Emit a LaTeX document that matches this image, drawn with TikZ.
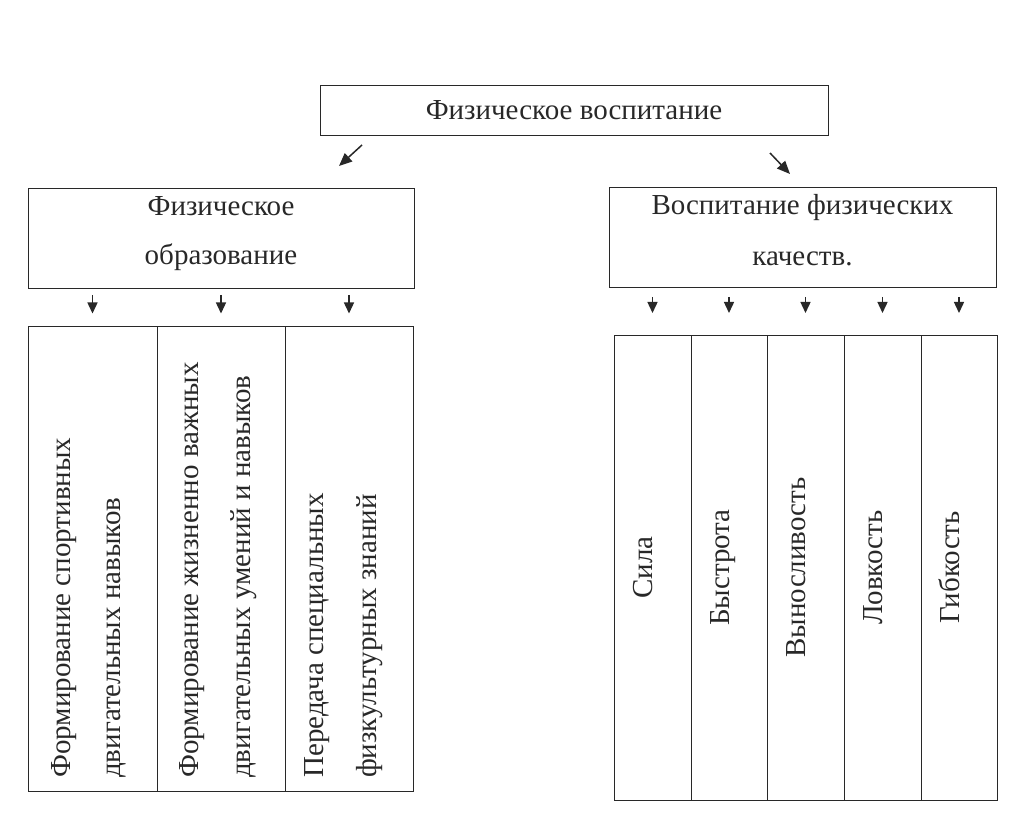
\documentclass[tikz,border=0pt]{standalone}
\usepackage{fontspec}
\setmainfont{Liberation Serif}
\usetikzlibrary{arrows.meta, positioning}
\definecolor{ink}{RGB}{40,40,40}

\begin{document}
\begin{tikzpicture}[
  x=1pt, y=-1pt,
  node distance=0pt,
  box/.style  = {rectangle, draw=ink, line width=0.9pt, inner sep=0pt, outer sep=0pt,
                 font=\fontsize{29}{49}\selectfont, text=ink, align=center},
  col/.style  = {rectangle, draw=ink, line width=0.9pt, inner sep=0pt, outer sep=0pt,
                 minimum height=465pt},
  vtxt/.style = {rotate=90, inner sep=0pt, font=\fontsize{29}{34}\selectfont, text=ink},
  arr/.style  = {-{Triangle[length=13pt,width=11pt]}, ink, line width=1.5pt},
  tick/.style = {-{Triangle[length=11pt,width=10pt]}, ink, line width=1.4pt}
]
\useasboundingbox (0,0) rectangle (1020,818);

% top level
\node[box, minimum width=508pt, minimum height=50pt] (top) at (574,110) {Физическое воспитание};

% two branches
\node[box, minimum width=386pt, minimum height=100pt, text depth=14pt] (edu) at (221,238) {Физическое\\образование};
\node[box, minimum width=387pt, minimum height=100pt, text depth=15pt,
      font=\fontsize{29}{51}\selectfont] (qual) at (802.5,237) {Воспитание физических\\качеств.};

\coordinate (l0) at (362,145); \coordinate (l1) at (339,166);
\coordinate (r0) at (770,153); \coordinate (r1) at (790,174);
\draw[arr](l0)--(l1); \draw[arr](r0)--(r1);

% columns of physical education
\node[col, minimum width=129pt] (c1) at (92.5,559) {};
\node[col, minimum width=128pt, right=of c1] (c2) {};
\node[col, minimum width=128pt, right=of c2] (c3) {};

\node[vtxt, anchor=base west] (c1a) at (70,778)  {Формирование спортивных};
\node[vtxt, anchor=base west] (c1b) at (120,778) {двигательных навыков};
\node[vtxt, anchor=base west] (c2a) at (198,778) {Формирование жизненно важных};
\node[vtxt, anchor=base west] (c2b) at (250,778) {двигательных умений и навыков};
\node[vtxt, anchor=base west] (c3a) at (323,778) {Передача специальных};
\node[vtxt, anchor=base west] (c3b) at (376,778) {физкультурных знаний};

% columns of physical qualities
\node[col, minimum width=77pt] (q1) at (652.5,567.5) {};
\node[col, minimum width=76pt, right=of q1] (q2) {};
\node[col, minimum width=77pt, right=of q2] (q3) {};
\node[col, minimum width=77pt, right=of q3] (q4) {};
\node[col, minimum width=76pt, right=of q4] (q5) {};

\foreach \q/\name in {q1/Сила, q2/Быстрота, q3/Выносливость, q4/Ловкость, q5/Гибкость}
  \node[vtxt, anchor=base] (\q t) at (\q.center) {\name};

% short arrows
\foreach \c in {c1,c2,c3}
  \draw[tick, shorten <=7pt, shorten >=13pt] (edu.south -| \c.north) -- (\c.north);
\foreach \q in {q1,q2,q3,q4,q5}
  \draw[tick, shorten <=10pt, shorten >=22pt] (qual.south -| \q.north) -- (\q.north);
\end{tikzpicture}
\end{document}
